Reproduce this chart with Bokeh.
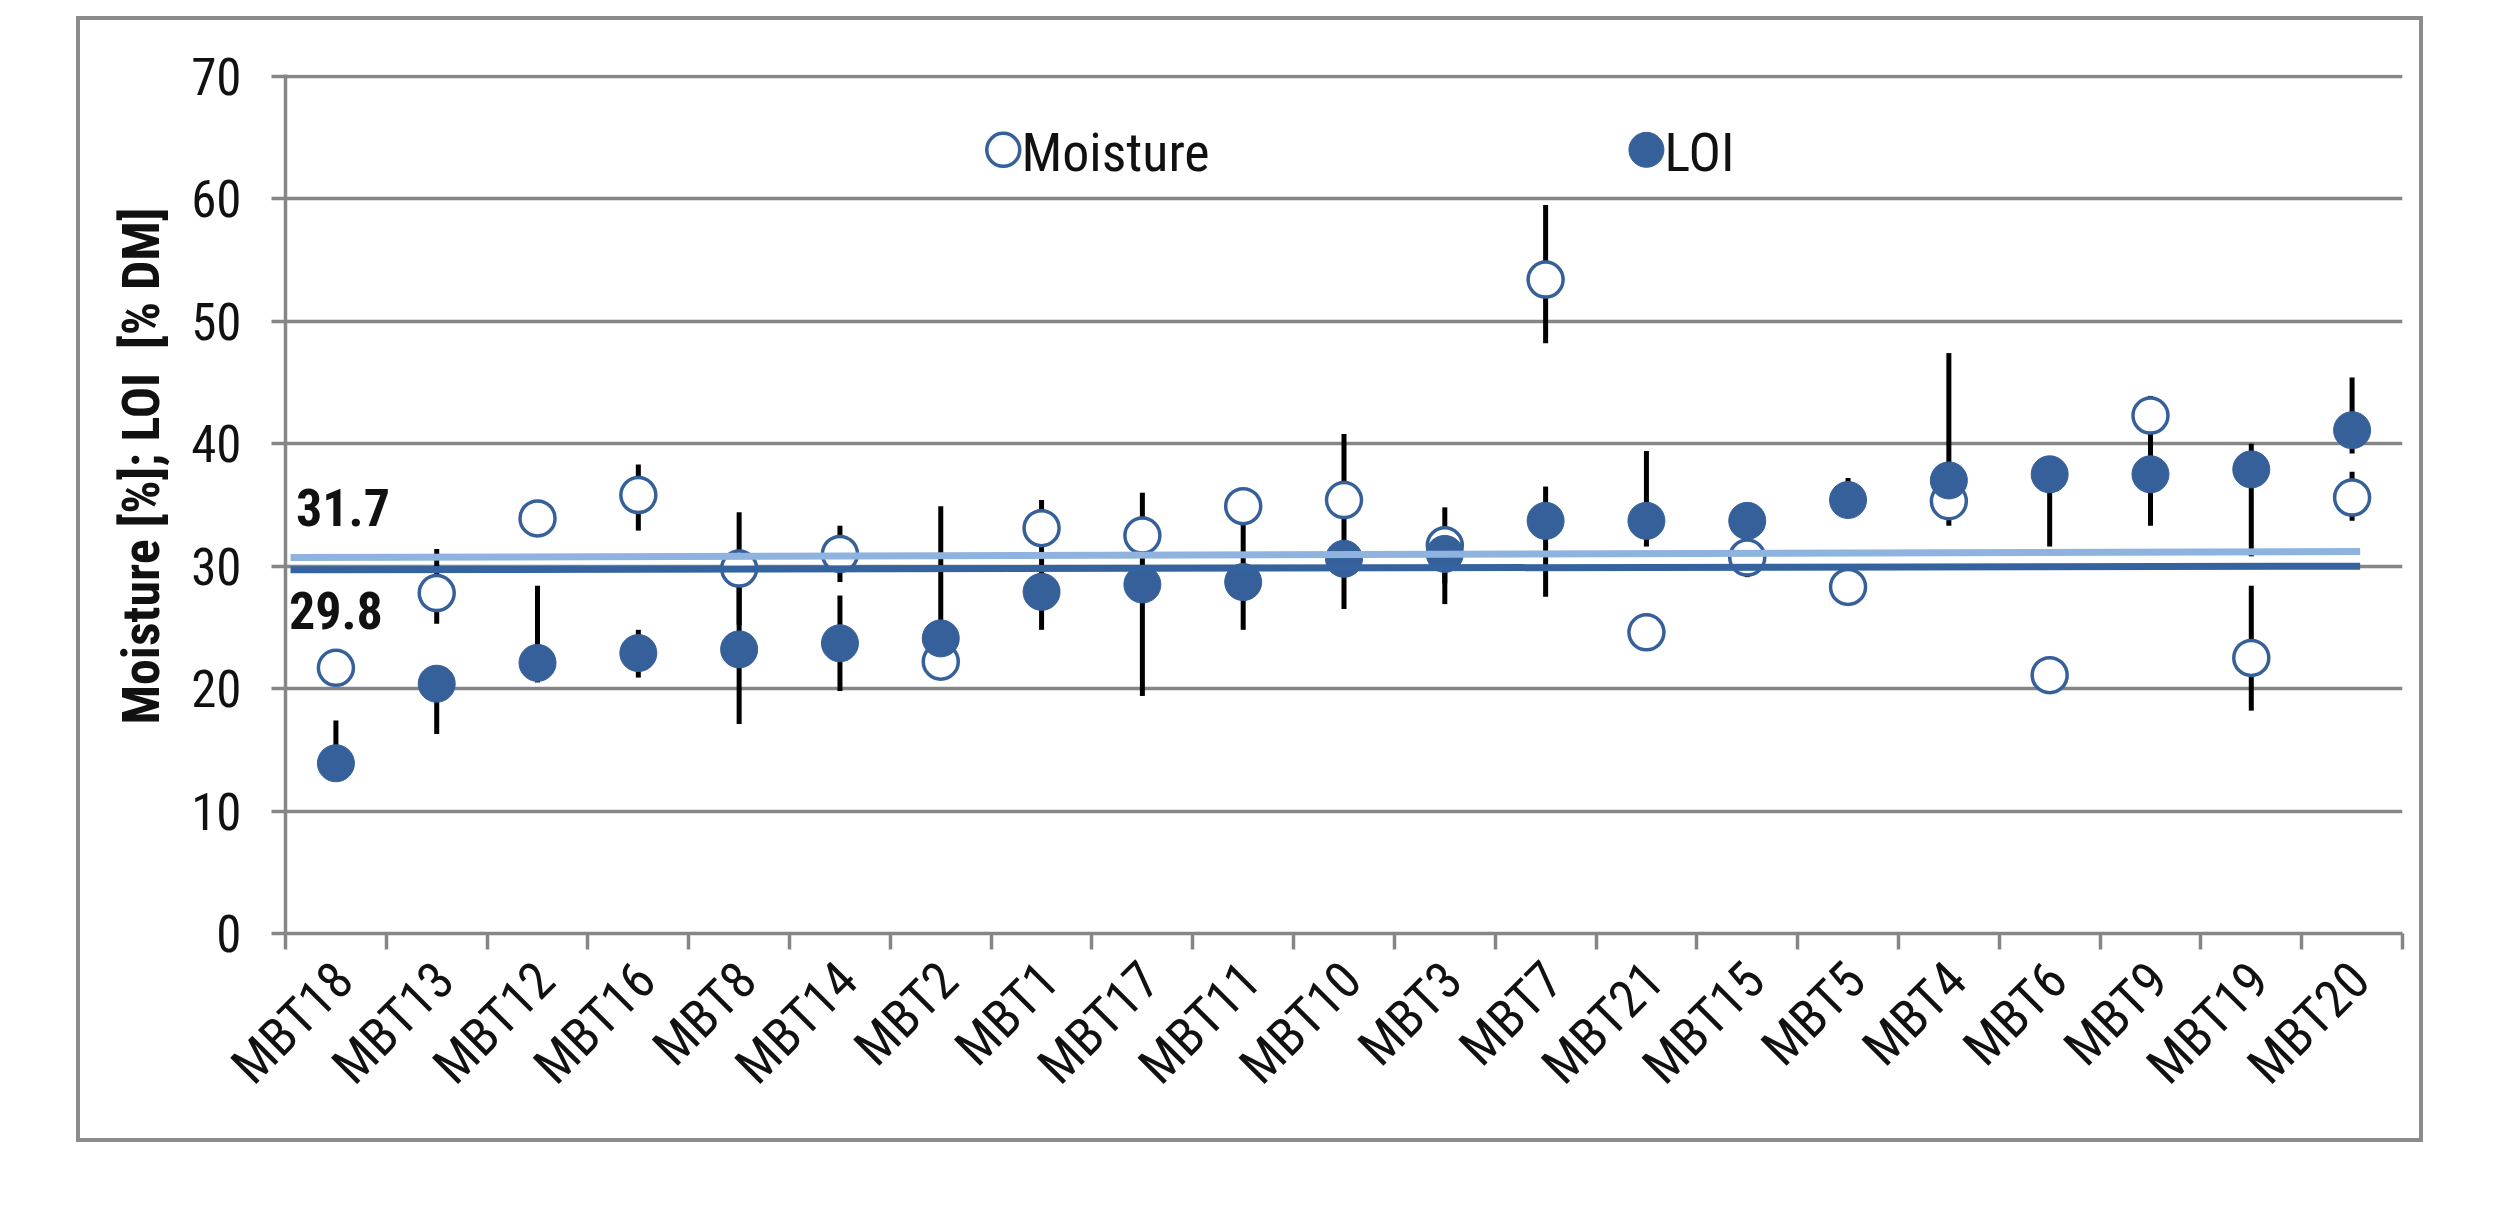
import numpy as np
from math import pi
from bokeh.plotting import figure
from bokeh.models import Range1d, FixedTicker, Title
from bokeh.core.properties import value
from bokeh.embed import file_html
from bokeh.resources import INLINE

# ---------------- data ----------------
categories = ["MBT18", "MBT13", "MBT12", "MBT16", "MBT8", "MBT14", "MBT2", "MBT1",
              "MBT17", "MBT11", "MBT10", "MBT3", "MBT7", "MBT21", "MBT15", "MBT5",
              "MBT4", "MBT6", "MBT9", "MBT19", "MBT20"]
moisture = [21.7, 27.8, 33.9, 35.8, 29.8, 31.0, 22.2, 33.1, 32.5, 34.9, 35.4,
            31.7, 53.4, 24.6, 30.7, 28.3, 35.3, 21.1, 42.3, 22.5, 35.6]
loi = [13.9, 20.4, 22.1, 22.9, 23.2, 23.7, 24.1, 27.9, 28.5, 28.7, 30.6,
       31.0, 33.7, 33.7, 33.7, 35.4, 37.0, 37.5, 37.5, 37.9, 41.1]
nan = float("nan")
moisture_err_lo = [nan, 25.3, nan, 32.9, 25.2, 28.7, nan, 30.8, 29.0, nan, 30.0,
                   28.6, 48.2, nan, 29.1, nan, 33.3, nan, 40.7, 18.2, 33.7]
moisture_err_hi = [nan, 31.4, nan, 38.3, 34.4, 33.3, nan, 35.4, 36.0, nan, 40.8,
                   34.8, 59.5, nan, 32.3, nan, 37.3, nan, 43.9, 28.4, 37.7]
loi_err_lo = [13.9, 16.3, 20.5, 20.9, 17.1, 19.8, 24.1, 24.8, 19.4, 24.8, 26.5,
              26.9, 27.5, 31.6, nan, 34.5, 37.0, 31.6, 33.3, 30.8, 39.2]
loi_err_hi = [17.4, 20.4, 28.4, 24.8, 29.0, 27.6, 34.9, 31.0, 28.5, 33.4, 30.6,
              31.0, 36.5, 39.4, nan, 37.2, 47.4, 37.5, 41.7, 40.0, 45.4]
mean_labels = ["31.7", "29.8"]            # moisture mean, LOI mean
moisture_mean_line = [30.7, 31.2]        # drawn line level at start / end
loi_mean_line = [29.7, 30.0]
y_ticks = [0, 10, 20, 30, 40, 50, 60, 70]
y_title = "Moisture [%]; LOI\u00a0 [% DM]"
legend_names = ["Moisture", "LOI"]

# ---------------- styling ----------------
FONT = "Liberation Sans Narrow, Roboto Condensed, Liberation Sans, Arial, sans-serif"
GRAY = "#868686"
DARK = "#36609a"
LIGHT = "#8fb3df"
MEAN_DARK = "#3563a0"

n = len(categories)
xc = np.arange(n) + 0.5
x_lab = xc + 0.08          # label anchor (ticks themselves are hidden)

p = figure(width=2347, height=1126,
           x_range=Range1d(0, n), y_range=Range1d(0, 70.15),
           output_backend="svg", toolbar_location=None, tools="",
           min_border_left=205, min_border_right=25,
           min_border_top=54, min_border_bottom=213,
           styles={"border": "4px solid #8c8c8c", "position": "relative",
                   "left": "76px", "top": "16px"})
p.outline_line_color = None
p.background_fill_color = "white"
p.border_fill_color = "white"

# grid
p.xgrid.visible = False
p.ygrid.ticker = FixedTicker(ticks=y_ticks)
p.ygrid.grid_line_color = GRAY
p.ygrid.grid_line_width = 3.5

# x axis: ticks at category boundaries, labels at centers
p.xaxis.ticker = FixedTicker(ticks=list(x_lab), minor_ticks=list(range(n + 1)))
p.xaxis.major_label_overrides = {float(x): c for x, c in zip(x_lab, categories)}
p.xaxis.major_tick_out = 0
p.xaxis.major_tick_in = 0
p.xaxis.minor_tick_out = 16
p.xaxis.minor_tick_in = 0
p.xaxis.minor_tick_line_color = GRAY
p.xaxis.minor_tick_line_width = 3.5
p.xaxis.axis_line_color = GRAY
p.xaxis.axis_line_width = 3.5
p.xaxis.major_label_orientation = pi / 4
p.xaxis.major_label_text_font = FONT
p.xaxis.major_label_text_font_size = "52px"
p.xaxis.major_label_text_color = "#111111"
p.xaxis.major_label_standoff = 22

# y axis
p.yaxis.ticker = FixedTicker(ticks=y_ticks)
p.yaxis.major_tick_out = 14
p.yaxis.major_tick_in = 0
p.yaxis.minor_tick_out = 0
p.yaxis.minor_tick_in = 0
p.yaxis.major_tick_line_color = GRAY
p.yaxis.major_tick_line_width = 3.5
p.yaxis.axis_line_color = GRAY
p.yaxis.axis_line_width = 3.5
p.yaxis.major_label_text_font = FONT
p.yaxis.major_label_text_font_size = "51px"
p.yaxis.major_label_text_color = "#111111"
p.yaxis.major_label_standoff = 30

# error bars (behind markers)
p.segment(x0=xc, x1=xc, y0=moisture_err_lo, y1=moisture_err_hi,
          line_color="black", line_width=5)
p.segment(x0=xc, x1=xc, y0=loi_err_lo, y1=loi_err_hi,
          line_color="black", line_width=5)

# markers
p.scatter(x=xc, y=moisture, marker="circle", size=35, fill_color="white",
          line_color=DARK, line_width=3.5)
p.scatter(x=xc, y=loi, marker="circle", size=37, fill_color=DARK,
          line_color=DARK, line_width=1)

# mean lines
x_line = [0.05, n - 0.42]
p.line(x=x_line, y=moisture_mean_line, line_color=LIGHT, line_width=7)
p.line(x=x_line, y=loi_mean_line, line_color=MEAN_DARK, line_width=7)

# mean labels
p.text(x=[0.57, 0.50], y=[34.8, 26.4], text=mean_labels,
       text_font=value(FONT), text_font_style="bold", text_font_size="52px",
       text_align="center", text_baseline="middle", text_color="#111111")

# legend (drawn inside the plot area)
p.scatter(x=[7.12], y=[64.0], marker="circle", size=33, fill_color="white",
          line_color=DARK, line_width=3.5)
p.scatter(x=[13.5], y=[64.0], marker="circle", size=35, fill_color=DARK,
          line_color=DARK)
p.text(x=[7.30, 13.68], y=[63.8, 63.8], text=legend_names,
       text_font=value(FONT), text_font_size="54px",
       text_align="left", text_baseline="middle", text_color="#111111")

# y-axis title (placed in the left panel, shifted upwards like the reference)
p.add_layout(Title(text=y_title, align="left", offset=209, standoff=34,
                   text_font=FONT, text_font_style="bold", text_font_size="52px",
                   text_color="#111111"), "left")

open("out.html", "w").write(file_html(p, INLINE))
